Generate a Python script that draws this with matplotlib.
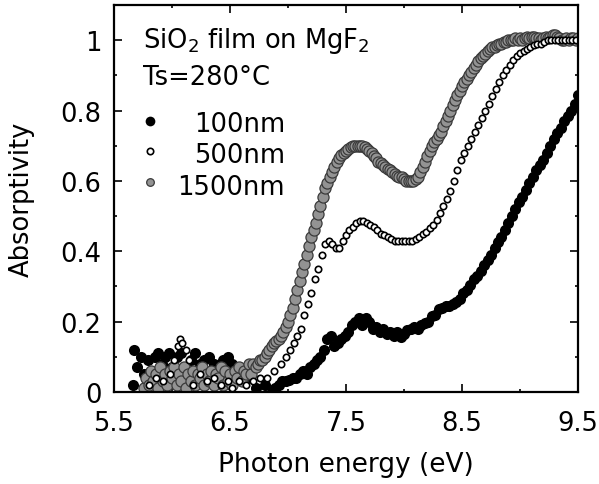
import matplotlib
matplotlib.use("Agg")
import matplotlib.pyplot as plt
from matplotlib.ticker import MultipleLocator

plt.rcParams['font.family'] = ['DejaVu Sans']
plt.rcParams['mathtext.fontset'] = 'dejavusans'

# ---------------- data ----------------
x_100 = [5.66, 5.67, 5.70, 5.73, 5.76, 5.79, 5.82, 5.85, 5.88, 5.91, 5.94, 5.97, 6.00,
         6.04, 6.08, 6.12, 6.16, 6.20, 6.24, 6.28, 6.32, 6.36, 6.40, 6.44, 6.48, 6.52,
         6.56, 6.62, 6.72, 6.80,
         6.86, 6.89, 6.92, 6.95, 6.98, 7.01, 7.04, 7.07, 7.10, 7.13, 7.16, 7.19, 7.22,
         7.25, 7.28, 7.31, 7.34, 7.37, 7.40, 7.43, 7.46, 7.49, 7.52, 7.55, 7.58, 7.61,
         7.64, 7.67, 7.70, 7.73, 7.76, 7.79, 7.82, 7.85, 7.88, 7.91, 7.94, 7.97, 8.00,
         8.03, 8.06, 8.09, 8.12, 8.15, 8.18, 8.21, 8.24, 8.27, 8.30, 8.33, 8.36, 8.39,
         8.42, 8.45, 8.48, 8.51, 8.54, 8.57, 8.60, 8.63, 8.66, 8.69, 8.72, 8.75, 8.78,
         8.81, 8.84, 8.87, 8.90, 8.93, 8.96, 8.99, 9.02, 9.05, 9.08, 9.11, 9.14, 9.17,
         9.20, 9.23, 9.26, 9.29, 9.32, 9.35, 9.38, 9.41, 9.44, 9.47, 9.50]
y_100 = [0.02, 0.12, 0.07, 0.10, 0.05, 0.09, 0.06, 0.10, 0.11, 0.08, 0.10, 0.11, 0.07,
         0.10, 0.11, 0.06, 0.09, 0.11, 0.08, 0.09, 0.10, 0.08, 0.07, 0.09, 0.10, 0.08,
         0.06, 0.03, 0.01, 0.02,
         0.00, 0.01, 0.02, 0.03, 0.03, 0.035, 0.04, 0.04, 0.05, 0.06, 0.05, 0.07, 0.08,
         0.09, 0.10, 0.12, 0.15, 0.16, 0.13, 0.14, 0.15, 0.16, 0.17, 0.19, 0.20, 0.21,
         0.19, 0.21, 0.20, 0.18, 0.185, 0.17, 0.18, 0.165, 0.17, 0.16, 0.17, 0.155, 0.165,
         0.175, 0.18, 0.185, 0.18, 0.19, 0.195, 0.20, 0.215, 0.22, 0.235, 0.24, 0.245, 0.245,
         0.25, 0.255, 0.265, 0.28, 0.29, 0.305, 0.32, 0.33, 0.345, 0.36, 0.375, 0.39, 0.41,
         0.425, 0.44, 0.46, 0.48, 0.50, 0.52, 0.54, 0.555, 0.575, 0.595, 0.61, 0.63, 0.645,
         0.66, 0.68, 0.70, 0.72, 0.735, 0.75, 0.77, 0.785, 0.80, 0.82, 0.845]

x_500 = [5.80, 5.86, 5.92, 5.98, 6.02, 6.05, 6.07, 6.09, 6.12, 6.15, 6.18, 6.24, 6.30,
         6.36, 6.42, 6.48, 6.52, 6.58, 6.64, 6.70, 6.76, 6.82, 6.88, 6.94, 6.98, 7.02,
         7.05, 7.08, 7.11, 7.14, 7.17, 7.20, 7.23, 7.26, 7.29, 7.32, 7.35, 7.38, 7.41,
         7.44, 7.47, 7.50, 7.53, 7.56, 7.59, 7.62, 7.65, 7.68, 7.71, 7.74, 7.77, 7.80,
         7.83, 7.86, 7.89, 7.92, 7.95, 7.98, 8.01, 8.04, 8.07, 8.10, 8.13, 8.16, 8.19,
         8.22, 8.25, 8.28, 8.31, 8.34, 8.37, 8.40, 8.43, 8.46, 8.49, 8.52, 8.55, 8.58,
         8.61, 8.64, 8.67, 8.70, 8.73, 8.76, 8.79, 8.82, 8.85, 8.88, 8.91, 8.94, 8.97,
         9.00, 9.03, 9.06, 9.09, 9.12, 9.15, 9.18, 9.21, 9.24, 9.27, 9.30, 9.33, 9.36,
         9.39, 9.42, 9.45, 9.48]
y_500 = [0.02, 0.04, 0.03, 0.05, 0.09, 0.13, 0.15, 0.14, 0.12, 0.09, 0.02, 0.05, 0.03,
         0.04, 0.02, 0.03, 0.01, 0.03, 0.02, 0.03, 0.04, 0.04, 0.06, 0.08, 0.10, 0.12,
         0.14, 0.16, 0.18, 0.22, 0.25, 0.28, 0.32, 0.35, 0.39, 0.42, 0.43, 0.42, 0.41,
         0.41, 0.43, 0.445, 0.46, 0.47, 0.48, 0.485, 0.485, 0.48, 0.475, 0.47, 0.46, 0.45,
         0.445, 0.44, 0.435, 0.43, 0.43, 0.43, 0.43, 0.43, 0.43, 0.435, 0.44, 0.45, 0.455,
         0.465, 0.475, 0.49, 0.51, 0.53, 0.55, 0.57, 0.60, 0.63, 0.66, 0.68, 0.70, 0.72,
         0.74, 0.76, 0.78, 0.80, 0.82, 0.84, 0.86, 0.88, 0.90, 0.915, 0.93, 0.945, 0.955,
         0.965, 0.97, 0.975, 0.98, 0.985, 0.99, 0.99, 0.995, 1.0, 1.0, 1.0, 1.0, 1.0,
         1.0, 1.0, 1.0, 1.0]

x_1500 = [5.76, 5.78, 5.80, 5.82, 5.84, 5.86, 5.88, 5.90, 5.92, 5.94, 5.96, 5.98, 6.00,
          6.02, 6.04, 6.06, 6.08, 6.10, 6.12, 6.14, 6.16, 6.18, 6.20, 6.22, 6.24, 6.26,
          6.28, 6.30, 6.32, 6.34, 6.36, 6.38, 6.40, 6.42, 6.44, 6.46, 6.48, 6.50, 6.52,
          6.54, 6.56, 6.58, 6.60, 6.62, 6.64, 6.66, 6.68, 6.70, 6.72, 6.74, 6.76, 6.78,
          6.80, 6.82, 6.84, 6.86, 6.88, 6.90, 6.92, 6.94, 6.96, 6.98, 7.00, 7.02, 7.04,
          7.06, 7.08, 7.10, 7.12, 7.14, 7.16, 7.18, 7.20, 7.22, 7.24, 7.26, 7.28, 7.30,
          7.32, 7.34, 7.36, 7.38, 7.40, 7.42, 7.44, 7.46, 7.48, 7.50, 7.52, 7.54, 7.56,
          7.58, 7.60, 7.62, 7.64, 7.66, 7.68, 7.70, 7.72, 7.74, 7.76, 7.78, 7.80, 7.82,
          7.84, 7.86, 7.88, 7.90, 7.92, 7.94, 7.96, 7.98, 8.00, 8.02, 8.04, 8.06, 8.08,
          8.10, 8.12, 8.14, 8.16, 8.18, 8.20, 8.22, 8.24, 8.26, 8.28, 8.30, 8.32, 8.34,
          8.36, 8.38, 8.40, 8.42, 8.44, 8.46, 8.48, 8.50, 8.52, 8.54, 8.56, 8.58, 8.60,
          8.62, 8.64, 8.66, 8.68, 8.70, 8.72, 8.74, 8.76, 8.78, 8.80, 8.82, 8.84, 8.86,
          8.88, 8.90, 8.92, 8.94, 8.96, 8.98, 9.00, 9.02, 9.04, 9.06, 9.08, 9.10, 9.12,
          9.14, 9.16, 9.18, 9.20, 9.22, 9.24, 9.26, 9.28, 9.30, 9.32, 9.34, 9.36, 9.38,
          9.40, 9.42, 9.44, 9.46, 9.48, 9.50]
y_1500 = [0.01, 0.04, 0.02, 0.06, 0.03, 0.05, 0.01, 0.07, 0.03, 0.05, 0.02, 0.06, 0.04,
          0.07, 0.02, 0.05, 0.03, 0.07, 0.01, 0.05, 0.03, 0.06, 0.02, 0.05, 0.04, 0.07,
          0.02, 0.05, 0.03, 0.06, 0.02, 0.05, 0.04, 0.07, 0.02, 0.06, 0.03, 0.05, 0.02,
          0.06, 0.04, 0.07, 0.03, 0.06, 0.05, 0.08, 0.05, 0.08, 0.07, 0.08, 0.09, 0.09,
          0.10, 0.11, 0.12, 0.13, 0.14, 0.145, 0.15, 0.16, 0.17, 0.185, 0.20, 0.22, 0.24,
          0.265, 0.29, 0.315, 0.34, 0.365, 0.39, 0.415, 0.44, 0.46, 0.48, 0.505, 0.53, 0.555,
          0.58, 0.595, 0.61, 0.625, 0.64, 0.655, 0.665, 0.675, 0.68, 0.685, 0.69, 0.695, 0.70,
          0.70, 0.70, 0.70, 0.70, 0.695, 0.69, 0.685, 0.68, 0.67, 0.665, 0.655, 0.65, 0.645,
          0.64, 0.635, 0.63, 0.625, 0.62, 0.615, 0.61, 0.61, 0.605, 0.60, 0.60, 0.60, 0.60,
          0.605, 0.61, 0.625, 0.64, 0.655, 0.67, 0.685, 0.70, 0.71, 0.72, 0.73, 0.74, 0.755,
          0.77, 0.785, 0.80, 0.815, 0.83, 0.845, 0.855, 0.87, 0.88, 0.89, 0.90, 0.91, 0.92,
          0.93, 0.94, 0.95, 0.955, 0.96, 0.97, 0.975, 0.98, 0.98, 0.985, 0.99, 0.99, 0.995,
          0.995, 1.0, 1.0, 1.0, 1.005, 1.0, 1.005, 1.0, 1.005, 1.01, 1.005, 1.01, 1.01,
          1.005, 1.005, 1.0, 1.005, 1.01, 1.005, 1.01, 1.015, 1.015, 1.01, 1.005, 1.0, 1.0,
          1.005, 1.0, 1.005, 1.005, 1.0, 1.005]

xticks_major = [5.5, 6.5, 7.5, 8.5, 9.5]
yticks_major = [0, 0.2, 0.4, 0.6, 0.8, 1.0]
ytick_labels = ["0", "0.2", "0.4", "0.6", "0.8", "1"]
legend_labels = ["100nm", "500nm", "1500nm"]

# ---------------- figure ----------------
fig = plt.figure(figsize=(5.99, 4.85), dpi=100)
ax = fig.add_axes([0.1903, 0.1897, 0.7747, 0.7979])

st_100 = dict(marker='o', linestyle='none', markersize=8, color='black', markeredgewidth=0)
st_1500 = dict(marker='o', linestyle='none', markersize=8, markerfacecolor='#939393',
               markeredgecolor='#3a3a3a', markeredgewidth=0.9)
st_500 = dict(marker='o', linestyle='none', markersize=4.6, markerfacecolor='white',
              markeredgecolor='black', markeredgewidth=1.2)

ax.plot(x_100, y_100, **st_100)
ax.plot(x_1500, y_1500, **st_1500)
ax.plot(x_500, y_500, **st_500)

ax.set_xlim(5.5, 9.5)
ax.set_ylim(0, 1.10)
ax.set_xticks(xticks_major)
ax.set_xticklabels([f"{v:.1f}" for v in xticks_major])
ax.xaxis.set_minor_locator(MultipleLocator(0.5))
ax.set_yticks(yticks_major)
ax.set_yticklabels(ytick_labels)
ax.yaxis.set_minor_locator(MultipleLocator(0.1))

ax.tick_params(which='both', direction='in', top=True, right=True, width=1.2)
ax.tick_params(which='major', length=5.5, labelsize=18.5)
ax.tick_params(axis='x', which='major', pad=13)
ax.tick_params(axis='y', which='major', pad=9)
ax.tick_params(which='minor', length=2.5)
for s in ax.spines.values():
    s.set_linewidth(1.6)

ax.set_xlabel("Photon energy (eV)", fontsize=19, va='center')
ax.set_ylabel("Absorptivity", fontsize=18.5, va='center')
ax.xaxis.set_label_coords(0.5, -0.186)
ax.yaxis.set_label_coords(-0.198, 0.5)

# annotation text
ax.text(0.0625, 0.891, r"SiO$_2$ film on MgF$_2$", transform=ax.transAxes,
        fontsize=18.5, ha='left', va='baseline')
ax.text(0.0625, 0.796, "Ts=280°C", transform=ax.transAxes,
        fontsize=18.5, ha='left', va='baseline')

# manual legend
leg_marker_y = [0.700, 0.622, 0.543]
leg_text_y = [0.674, 0.594, 0.512]
leg_styles = [dict(st_100, markersize=7), st_500,
              dict(st_1500, markersize=5.5)]
for st, my, ty, lab in zip(leg_styles, leg_marker_y, leg_text_y, legend_labels):
    ax.plot([0.078], [my], transform=ax.transAxes, clip_on=False, **st)
    ax.text(0.369, ty, lab, transform=ax.transAxes, fontsize=18.5,
            ha='right', va='baseline')

fig.savefig("out.png", dpi=100)
